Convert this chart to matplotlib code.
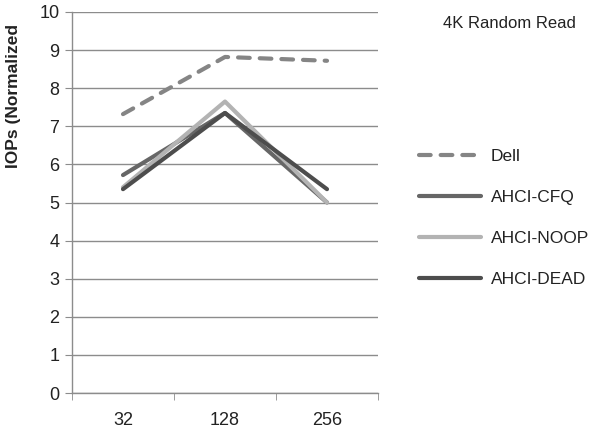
import numpy as np
import matplotlib.pyplot as plt

plt.rcParams['font.family'] = ['Liberation Sans', 'DejaVu Sans']

# data
queue_depths = ['32', '128', '256']
dell = [7.32, 8.82, 8.72]
ahci_cfq = [5.72, 7.35, 5.0]
ahci_noop = [5.4, 7.65, 5.0]
ahci_dead = [5.35, 7.35, 5.35]
y_ticks = list(range(0, 11))

fig = plt.figure(figsize=(5.92, 4.33), dpi=100)
ax = fig.add_axes([72 / 592, 40 / 433, 306 / 592, 381 / 433])

x = np.arange(len(queue_depths))
lw = 3.0
ax.plot(x, dell, color='#858585', lw=lw, linestyle=(0, (2.8, 2.4)),
        dash_capstyle='round', solid_capstyle='round', label='Dell')
ax.plot(x, ahci_cfq, color='#666666', lw=lw, solid_capstyle='round', label='AHCI-CFQ')
ax.plot(x, ahci_noop, color='#b3b3b3', lw=lw, solid_capstyle='round', label='AHCI-NOOP')
ax.plot(x, ahci_dead, color='#4d4d4d', lw=lw, solid_capstyle='round', label='AHCI-DEAD')

ax.set_xlim(-0.5, len(queue_depths) - 0.5)
ax.set_ylim(0, 10)
ax.set_yticks(y_ticks)
ax.set_xticks(x)
ax.set_xticklabels(queue_depths)
ax.set_xticks(np.arange(-0.5, len(queue_depths)), minor=True)
ax.tick_params(axis='x', which='major', length=0, pad=14, labelsize=13, colors='#222222')
ax.tick_params(axis='x', which='minor', length=5, color='#8c8c8c', direction='out')
ax.tick_params(axis='y', length=5, color='#8c8c8c', pad=4, labelsize=13, labelcolor='#222222')

ax.grid(axis='y', color='#8c8c8c', lw=1.0)
ax.set_axisbelow(True)
for side in ['top', 'right']:
    ax.spines[side].set_visible(False)
for side in ['left', 'bottom']:
    ax.spines[side].set_color('#8c8c8c')
    ax.spines[side].set_linewidth(1.0)

fig.text(14 / 592, 1 - 96 / 433, 'IOPs (Normalized', rotation=90, fontsize=12.5,
         fontweight='bold', ha='center', va='center', color='#222222')
fig.text(509 / 592, 1 - 23 / 433, '4K Random Read', fontsize=12,
         ha='center', va='center', color='#222222')

fig.legend(loc='upper left', bbox_to_anchor=(403 / 592, 1 - 133 / 433),
           frameon=False, fontsize=12.5, handlelength=3.6, handletextpad=0.55,
           labelspacing=1.5, labelcolor='#222222')

fig.savefig('out.png', dpi=100)
